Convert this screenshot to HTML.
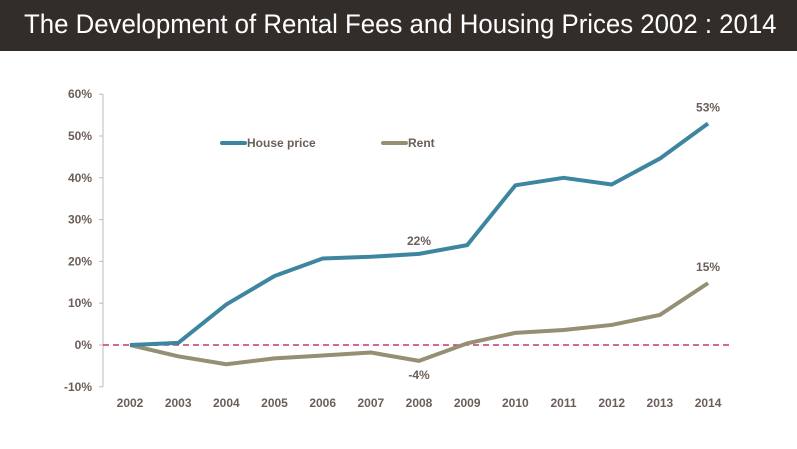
<!DOCTYPE html>
<html><head><meta charset="utf-8"><style>
body{margin:0;width:797px;height:449px;background:#fff;overflow:hidden;font-family:"Liberation Sans",sans-serif}
#bar{position:absolute;left:0;top:0;width:797px;height:51px;background:#332d2a}
#title{position:absolute;left:24px;top:9px;color:#fff;font-size:27px;white-space:nowrap;transform:scaleX(0.955);transform-origin:left top}
svg{position:absolute;left:0;top:0}
svg text{font-family:"Liberation Sans",sans-serif;font-weight:bold;font-size:12px;fill:#6b5e58}
</style></head><body>
<div id="bar"><div id="title">The Development of Rental Fees and Housing Prices 2002 : 2014</div></div>
<svg id="chart" width="797" height="449"></svg>
<script>
const years=["2002","2003","2004","2005","2006","2007","2008","2009","2010","2011","2012","2013","2014"];
const housePrice=[0,0.5,9.7,16.5,20.7,21.1,21.8,23.9,38.2,40,38.4,44.6,53];
const rent=[0,-2.7,-4.6,-3.2,-2.5,-1.8,-3.8,0.4,2.9,3.6,4.8,7.2,14.8];
const yTicks=[60,50,40,30,20,10,0,-10];
const annotations=[{s:"house",i:6,t:"22%",dy:-9},{s:"house",i:12,t:"53%",dy:-12},{s:"rent",i:6,t:"-4%",dy:18},{s:"rent",i:12,t:"15%",dy:-12}];
const svg=document.getElementById('chart');const NS="http://www.w3.org/2000/svg";
const X=i=>130+i*48.17, Y=v=>345-v*4.18;
function mk(t,a,p){const e=document.createElementNS(NS,t);for(const k in a)e.setAttribute(k,a[k]);(p||svg).appendChild(e);return e;}
let ax=mk('line',{x1:103,y1:Y(60),x2:103,y2:Y(-10),stroke:'#bbb','stroke-width':1});


yTicks.forEach(v=>{mk('line',{x1:99,y1:Y(v),x2:103,y2:Y(v),stroke:'#bbb'});
 const t=mk('text',{x:92,y:Y(v)+4,'text-anchor':'end'});t.textContent=v+'%';
 
 });
years.forEach((y,i)=>{const t=mk('text',{x:X(i),y:407,'text-anchor':'middle'});t.textContent=y;
 
 });
let z=mk('line',{x1:103,y1:Y(0),x2:730,y2:Y(0),stroke:'#c0396f','stroke-width':1.5,'stroke-dasharray':'6,4'});


function series(d,c,n){const p=mk('polyline',{points:d.map((v,i)=>X(i)+','+Y(v)).join(' '),fill:'none',stroke:c,'stroke-width':4,'stroke-linejoin':'round'});
 
 }
series(rent,'#958f74','rent-line');
series(housePrice,'#3e86a0','house-price-line');
annotations.forEach(a=>{const d=a.s=="house"?housePrice:rent;const t=mk('text',{x:X(a.i),y:Y(d[a.i])+a.dy,'text-anchor':'middle'});t.textContent=a.t;
 
 });
[[222,'#3e86a0','House price','legend-house-price'],[383,'#958f74','Rent','legend-rent']].forEach(l=>{
 const g=mk('g',{});
 
 mk('line',{x1:l[0],y1:143,x2:l[0]+23,y2:143,stroke:l[1],'stroke-width':4,'stroke-linecap':'round'},g);
 const t=mk('text',{x:l[0]+25,y:147},g);t.textContent=l[2];});
</script>
</body></html>
